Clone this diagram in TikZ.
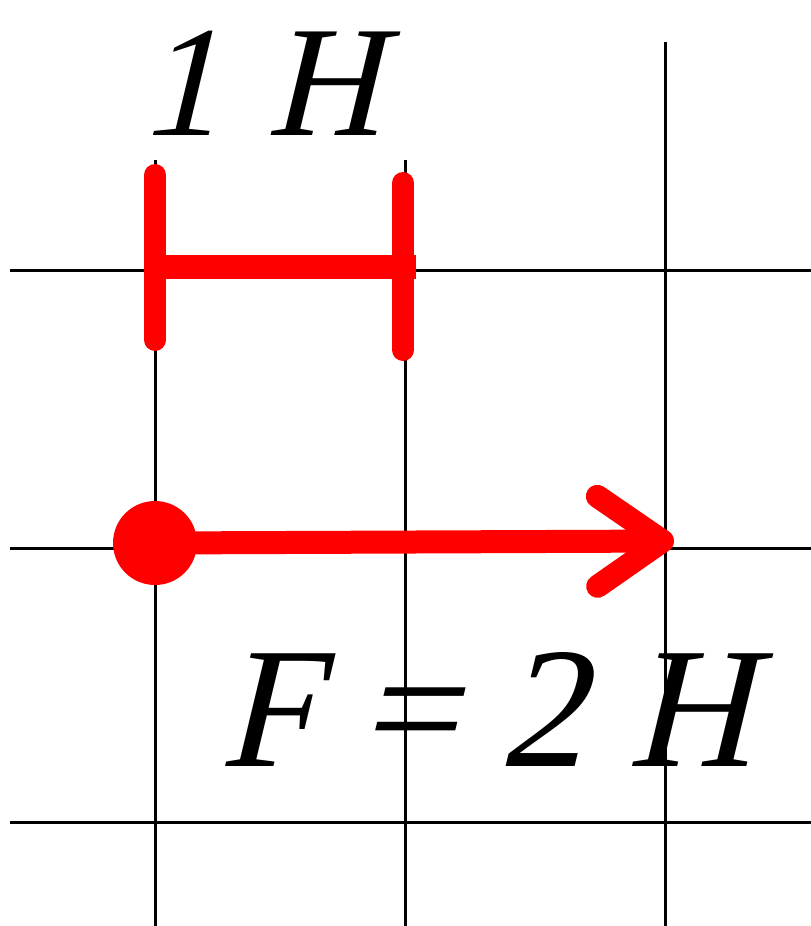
\documentclass[tikz,border=0pt]{standalone}
\usepackage{fontspec}
\setmainfont{Liberation Serif}
\usetikzlibrary{positioning,arrows.meta}
\definecolor{force}{HTML}{FF0000}
\definecolor{ink}{HTML}{000000}
\tikzset{
    gridline/.style={draw=ink, line width=0.3mm},
    vector/.style={draw=force, line width=2.3mm, -{Straight Barb[length=6.5mm,width=9mm,round]}},
    tick/.style={draw=force, line width=2.2mm, line cap=round},
    slanted/.style={xslant=0.24, transform shape, inner sep=0pt, anchor=base west},
    unitlabel/.style={slanted, font=\fontsize{45}{45}\selectfont},
    forcelabel/.style={slanted, font=\fontsize{49}{49}\selectfont}
}

\begin{document}
\begin{tikzpicture}[x=0.1mm, y=-0.1mm]
\useasboundingbox (0,0) rectangle (811,926);

% grid
\draw[gridline] (155,160) -- (155,926);
\draw[gridline] (405,160) -- (405,926);
\draw[gridline] (665,42) -- (665,926);
\foreach \y in {270,548,822}
    \draw[gridline] (10,\y) -- (811,\y);

% scale: one unit
\coordinate (s1top) at (155,175);
\coordinate (s1bot) at (155,340);
\coordinate (s2top) at (403,183);
\coordinate (s2bot) at (403,350);
\coordinate (s1mid) at (155,267);
\coordinate (s2mid) at (416,267);
\draw[tick] (s1top) -- (s1bot);
\draw[tick] (s2top) -- (s2bot);
\draw[draw=force, line width=2.4mm] (s1mid) -- (s2mid);
\node[unitlabel] (unit) at (139,135) {1\hspace{0.3em}H};

% force vector
\node[circle, fill=force, minimum size=8.4mm, inner sep=0pt] (pin) at (155,543) {};
\coordinate (tip) at (674,541);
\draw[vector] (pin.center) -- (tip);
\node[forcelabel] (value) at (219,766) {F = 2 H};

\end{tikzpicture}
\end{document}
